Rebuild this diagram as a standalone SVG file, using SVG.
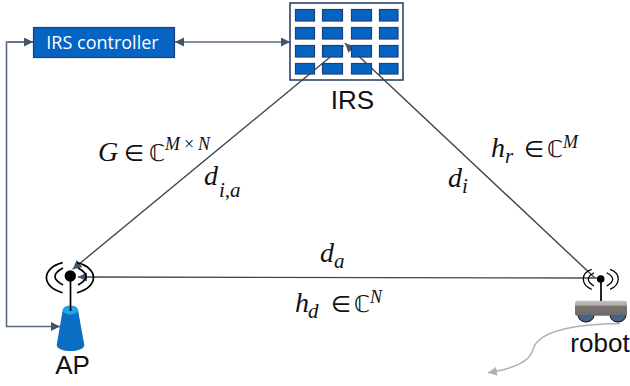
<svg xmlns="http://www.w3.org/2000/svg" width="630" height="386" viewBox="0 0 630 386">
<defs>
<marker id="a" markerUnits="userSpaceOnUse" markerWidth="10" markerHeight="10" refX="9" refY="4.500" orient="auto-start-reverse"><path d="M0 0L9 4.500L0 9Z" fill="#44546a"/></marker>
<marker id="g" markerUnits="userSpaceOnUse" markerWidth="12" markerHeight="10" refX="9" refY="4.500" orient="auto"><path d="M0 0L9 4.500L0 9Z" fill="#b0b0b0"/></marker>
<linearGradient id="body" x1="0" y1="0" x2="0" y2="1"><stop offset="0" stop-color="#c4c4c4"/><stop offset=".3" stop-color="#b0acaa"/><stop offset=".36" stop-color="#7a7573"/><stop offset="1" stop-color="#6e6a68"/></linearGradient>
</defs>
<style>
.c{fill:#0563c1;stroke:#1f3f7a;stroke-width:1.2}
.l{fill:none;stroke:#5a6b80;stroke-width:1.6}
.d{fill:none;stroke:#3f4650;stroke-width:1.4}
.k{fill:none;stroke:#000;stroke-width:1.7}
.q{fill:none;stroke:#000;stroke-width:1.300}
.m{font-family:"Liberation Serif",serif;font-style:italic;font-size:28px;fill:#111}
.s{font-size:21px}
.p{font-size:18px}
.n{font-style:normal;font-family:"DejaVu Sans",sans-serif;font-size:23px}
.t{font-family:"Liberation Sans",Arial,sans-serif;font-size:26px;fill:#111}
</style>
<g id="connectors">
<path class="l" d="M33 42H6.500V326.500H60" marker-end="url(#a)"/>
<path class="l" d="M8 42H33" marker-end="url(#a)"/>
<path class="l" d="M175 42H290" marker-start="url(#a)" marker-end="url(#a)"/>
<path class="d" d="M343.500 46L72.700 269.300" marker-end="url(#a)"/>
<path class="d" d="M595 278L345 43.300" marker-end="url(#a)"/>
<path class="d" d="M597 278L78 277" marker-end="url(#a)"/>
<path d="M620 323.500C585 324 550 328 537 342C531 349 534 353 528 358C520 366 505 370 488 372.700" fill="none" stroke="#b0b0b0" stroke-width="1.5" marker-end="url(#g)"/>
</g>
<g id="irs-controller">
<rect x="33.500" y="27.500" width="141" height="30" fill="#0563c1" stroke="#1f3f7a" stroke-width="1.2"/>
<text x="102.500" y="49" text-anchor="middle" font-family="'Open Sans',sans-serif" font-size="18" fill="#fff">IRS controller</text>
</g>
<g id="irs">
<rect x="290" y="3" width="113" height="77" fill="none" stroke="#1f3864" stroke-width="1.5"/>
<rect class="c" x="295.500" y="9.500" width="19" height="11.500"/><rect class="c" x="322.500" y="9.500" width="20" height="11.500"/><rect class="c" x="351.500" y="9.500" width="20" height="11.500"/><rect class="c" x="379.500" y="9.500" width="18.500" height="11.500"/>
<rect class="c" x="295.500" y="27.500" width="19" height="11.500"/><rect class="c" x="322.500" y="27.500" width="20" height="11.500"/><rect class="c" x="351.500" y="27.500" width="20" height="11.500"/><rect class="c" x="379.500" y="27.500" width="18.500" height="11.500"/>
<rect class="c" x="295.500" y="45.500" width="19" height="11.500"/><rect class="c" x="322.500" y="45.500" width="20" height="11.500"/><rect class="c" x="351.500" y="45.500" width="20" height="11.500"/><rect class="c" x="379.500" y="45.500" width="18.500" height="11.500"/>
<rect class="c" x="295.500" y="63.500" width="19" height="10.500"/><rect class="c" x="322.500" y="63.500" width="20" height="10.500"/><rect class="c" x="351.500" y="63.500" width="20" height="10.500"/><rect class="c" x="379.500" y="63.500" width="18.500" height="10.500"/>
<text class="t" x="352.500" y="109" text-anchor="middle">IRS</text>
</g>
<g id="ap">
<path d="M62.700 310L56.700 345C57 353 84 353 84.300 345L78 310Z" fill="#0a6fc4"/>
<ellipse cx="70.400" cy="310" rx="7.700" ry="4.500" fill="#1ea7e6"/>
<path class="k" d="M70.500 276V311"/>
<circle cx="70.300" cy="276" r="5.700" fill="#000"/>
<path class="k" d="M63 268Q47 276.500 63 285M78 268Q94 276.500 78 285"/>
<path class="k" d="M62.700 262.700C41 268 41 287 62.700 292.700M77 262.700C99 268 99 287 77 292.700"/>
<text class="t" x="72.500" y="374" text-anchor="middle">AP</text>
</g>
<g id="robot">
<path d="M578 315A8 7 0 0 0 594 315ZM610 315A8 7 0 0 0 626 315Z" fill="#44628a" stroke="#000" stroke-width="1"/>
<rect x="575" y="300.700" width="52" height="15" rx="2" fill="url(#body)"/>
<path class="k" d="M601 279V301"/>
<circle cx="600.700" cy="279" r="3.800" fill="#000"/>
<path class="q" d="M594 272.700Q582.600 279.300 594 286M606.700 272.700Q618.700 279.300 606.700 286"/>
<path class="q" d="M591.700 269.300C580.500 273 580.500 285 591.700 289.300M610 269.300C621 273 621 285 610 289.300"/>
<text class="t" x="600" y="352" text-anchor="middle">robot</text>
</g>
<g id="labels">
<text class="m" x="98" y="160.700">G</text><text class="m n" x="124" y="160.700">∈</text><text class="m n" x="149" y="160.700">ℂ</text>
<text class="m p" x="165" y="150">M</text><text class="m p" x="184" y="150" style="font-style:normal">×</text><text class="m p" x="198" y="150">N</text>
<text class="m" x="204" y="185">d</text><text class="m s" x="219" y="197">i,a</text>
<text class="m" x="491" y="157">h</text><text class="m s" x="505" y="163">r</text><text class="m n" x="524" y="157">∈</text><text class="m n" x="547" y="157">ℂ</text><text class="m p" x="563" y="148">M</text>
<text class="m" x="448" y="187">d</text><text class="m s" x="462" y="193">i</text>
<text class="m" x="320" y="262">d</text><text class="m s" x="334" y="268">a</text>
<text class="m" x="295" y="312">h</text><text class="m s" x="308" y="318">d</text><text class="m n" x="331" y="312">∈</text><text class="m n" x="354" y="312">ℂ</text><text class="m p" x="370" y="303">N</text>
</g>
</svg>
